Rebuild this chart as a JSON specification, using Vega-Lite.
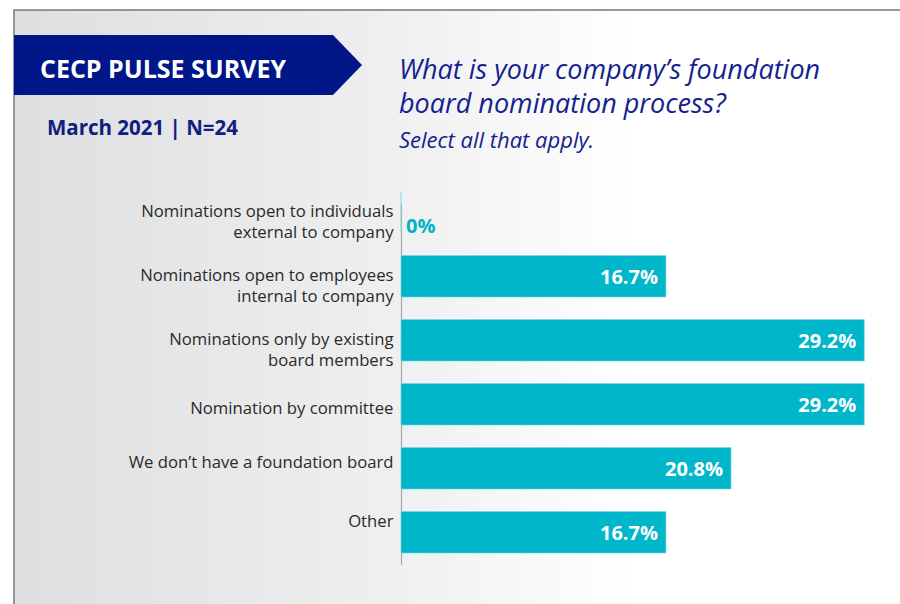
{
  "$schema": "https://vega.github.io/schema/vega-lite/v6.json",
  "width": 886,
  "height": 594,
  "autosize": "none",
  "padding": {"left": 14, "top": 10, "right": 0, "bottom": 0},
  "background": "#ffffff",
  "config": {
    "view": {
      "fill": {"gradient": "linear", "x1": 0, "y1": 0, "x2": 1, "y2": 0,
        "stops": [{"offset": 0, "color": "#dedfe0"}, {"offset": 0.4, "color": "#eeeeef"}, {"offset": 0.7, "color": "#ffffff"}, {"offset": 1, "color": "#ffffff"}]},
      "stroke": "#7a7a7a",
      "strokeWidth": 1.5,
      "strokeDash": [886, 1480, 594]
    }
  },
  "title": {
    "text": ["What is your company’s foundation", "board nomination process?"],
    "subtitle": "Select all that apply.",
    "anchor": "start",
    "frame": "group",
    "orient": "top",
    "dx": 385,
    "offset": -143,
    "font": "Open Sans",
    "fontStyle": "italic",
    "fontWeight": 400,
    "fontSize": 27,
    "lineHeight": 34,
    "color": "#14228f",
    "subtitleFont": "Open Sans",
    "subtitleFontStyle": "italic",
    "subtitleFontWeight": 400,
    "subtitleFontSize": 22,
    "subtitleColor": "#14228f",
    "subtitlePadding": 12
  },
  "data": {
    "values": [
      {"label": "Nominations open to individuals\nexternal to company", "share": 0},
      {"label": "Nominations open to employees\ninternal to company", "share": 0.167},
      {"label": "Nominations only by existing\nboard members", "share": 0.292},
      {"label": "Nomination by committee", "share": 0.292},
      {"label": "We don’t have a foundation board", "share": 0.208},
      {"label": "Other", "share": 0.167}
    ]
  },
  "layer": [
    {
      "mark": {"type": "bar", "color": "#00b6cb", "stroke": "#7fd6e2", "strokeWidth": 0.6},
      "encoding": {
        "y": {
          "field": "label", "type": "nominal", "sort": null,
          "scale": {"range": [170.3, 554.3], "paddingInner": 0.35, "paddingOuter": 0.175},
          "axis": {
            "title": null, "offset": -387, "ticks": false,
            "domainColor": "#a6a6a6", "domainWidth": 1.2, "domainDash": [0, 24, 600],
            "labelExpr": "split(datum.value, '\\n')",
            "labelFont": "Open Sans", "labelFontSize": 16.7, "labelColor": "#2a2a2a",
            "labelLineHeight": 21, "labelPadding": 8, "labelLimit": 0, "labelAlign": "right",
            "labelOffset": {
              "condition": [
                {"test": "datum.value == 'Nomination by committee'", "value": 5},
                {"test": "datum.value == 'We don’t have a foundation board'", "value": -5},
                {"test": "datum.value == 'Other'", "value": -10}
              ],
              "value": 0
            }
          }
        },
        "x": {
          "field": "share", "type": "quantitative",
          "scale": {"domain": [0, 0.3], "range": [387, 863], "nice": false, "zero": true},
          "axis": null
        }
      }
    },
    {
      "transform": [{"filter": "datum.share > 0"}],
      "mark": {"type": "text", "align": "right", "baseline": "middle", "dx": -8, "dy": 2, "font": "Open Sans", "fontWeight": "bold", "fontSize": 20, "letterSpacing": 0.6, "color": "#ffffff"},
      "encoding": {
        "y": {"field": "label", "type": "nominal", "sort": null},
        "x": {"field": "share", "type": "quantitative"},
        "text": {"field": "share", "type": "quantitative", "format": ".1~%"}
      }
    },
    {
      "transform": [{"filter": "datum.share == 0"}],
      "mark": {"type": "text", "align": "left", "baseline": "middle", "dx": 5, "dy": 15, "font": "Open Sans", "fontWeight": "bold", "fontSize": 20, "letterSpacing": 0.6, "color": "#00b3c9"},
      "encoding": {
        "y": {"field": "label", "type": "nominal", "sort": null},
        "x": {"field": "share", "type": "quantitative"},
        "text": {"field": "share", "type": "quantitative", "format": ".1~%"}
      }
    },
    {
      "data": {"values": [{"banner": "CECP PULSE SURVEY"}]},
      "layer": [
        {
          "mark": {"type": "point", "filled": true, "opacity": 1, "strokeWidth": 0, "color": "#011689",
            "shape": "M-1,-0.1724L0.8333,-0.1724L1,0L0.8333,0.1724L-1,0.1724Z"},
          "encoding": {"x": {"value": 174}, "y": {"value": 55}, "size": {"value": 121104}}
        },
        {
          "mark": {"type": "text", "align": "left", "baseline": "alphabetic", "font": "Open Sans", "fontWeight": "bold", "fontSize": 25, "letterSpacing": 2.2, "color": "#ffffff"},
          "encoding": {"x": {"value": 26}, "y": {"value": 68}, "text": {"field": "banner"}}
        }
      ]
    },
    {
      "data": {"values": [{"note": "March 2021 | N=24"}]},
      "mark": {"type": "text", "align": "left", "baseline": "alphabetic", "font": "Open Sans", "fontWeight": "bold", "fontSize": 20.5, "letterSpacing": 4.4, "color": "#0f2080"},
      "encoding": {"x": {"value": 33}, "y": {"value": 125}, "text": {"field": "note"}}
    }
  ]
}
